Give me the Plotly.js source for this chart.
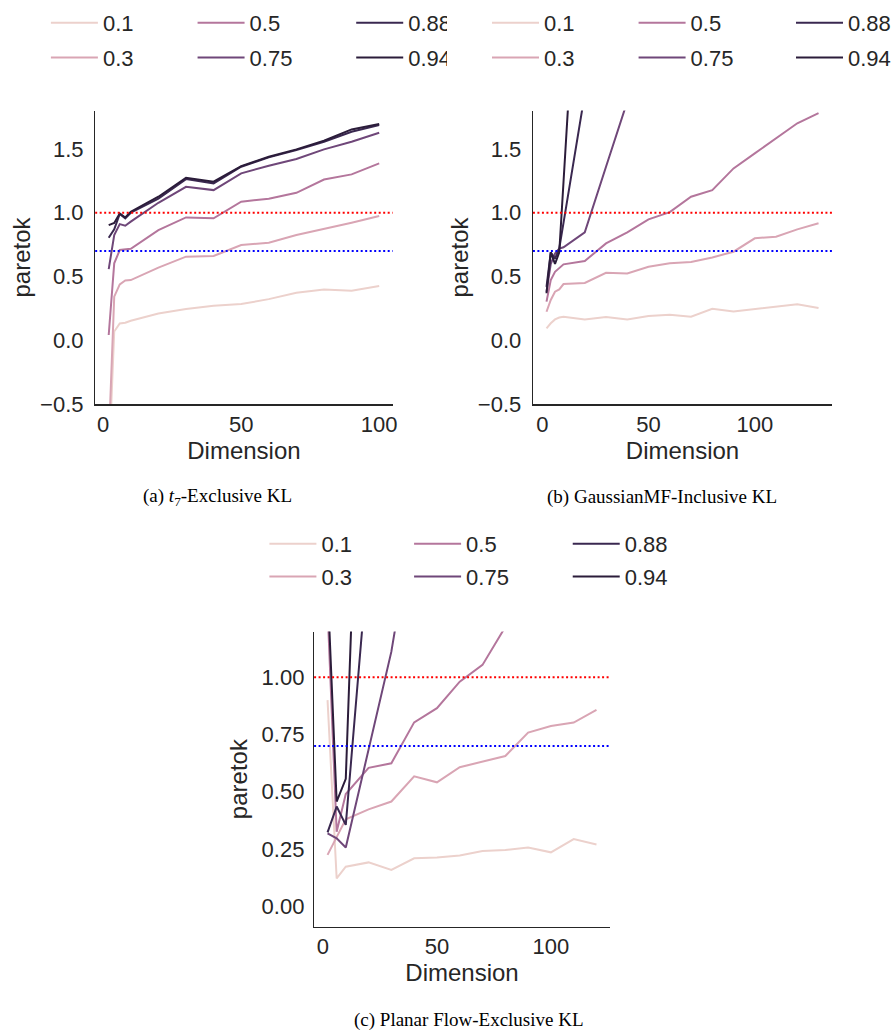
<!DOCTYPE html>
<html><head><meta charset="utf-8">
<script src="https://cdn.plot.ly/plotly-3.0.1.min.js"></script>
<style>html,body{margin:0;padding:0;background:#fff}</style>
</head><body><div id="chart" style="width:896px;height:1034px"></div>
<script>
// ---- data ----
const levels = ['0.1', '0.3', '0.5', '0.75', '0.88', '0.94'];
const colors = ['#ecd1cc', '#d9a5b4', '#b4769c', '#6f4779', '#3a2850', '#2b1c3a'];

// (a) t7 - Exclusive KL
const dimsA = [2, 4, 6, 8, 10, 20, 30, 40, 50, 60, 70, 80, 90, 100];
const a_01 = [-1.0, 0.07, 0.134, 0.139, 0.155, 0.212, 0.246, 0.272, 0.285, 0.324, 0.374, 0.40, 0.39, 0.426];
const a_03 = [-0.8, 0.343, 0.439, 0.47, 0.473, 0.57, 0.656, 0.661, 0.747, 0.765, 0.825, 0.872, 0.922, 0.974];
const a_05 = [0.043, 0.604, 0.708, 0.713, 0.718, 0.864, 0.963, 0.956, 1.086, 1.11, 1.156, 1.26, 1.30, 1.386];
const a_075 = [0.559, 0.825, 0.911, 0.898, 0.93, 1.078, 1.203, 1.177, 1.308, 1.368, 1.42, 1.496, 1.556, 1.626];
const a_088 = [0.804, 0.87, 0.99, 0.956, 1.0, 1.11, 1.263, 1.23, 1.36, 1.433, 1.49, 1.556, 1.634, 1.686];
const a_094 = [0.903, 0.92, 0.995, 0.963, 1.008, 1.125, 1.274, 1.243, 1.365, 1.438, 1.496, 1.563, 1.652, 1.694];

// (b) GaussianMF - Inclusive KL
const dimsB = [2, 4, 6, 8, 10, 20, 30, 40, 50, 60, 70, 80, 90, 100, 110, 120, 130];
const b_01 = [0.095, 0.135, 0.165, 0.18, 0.186, 0.165, 0.184, 0.165, 0.191, 0.202, 0.186, 0.249, 0.228, 0.246, 0.267, 0.283, 0.254];
const b_03 = [0.225, 0.317, 0.382, 0.40, 0.442, 0.45, 0.53, 0.525, 0.577, 0.604, 0.614, 0.65, 0.695, 0.80, 0.812, 0.87, 0.917];
const b_05 = [0.304, 0.473, 0.538, 0.564, 0.596, 0.622, 0.76, 0.846, 0.948, 1.005, 1.125, 1.177, 1.347, 1.464, 1.582, 1.70, 1.78];
const b_075 = [0.38, 0.60, 0.68, 0.72, 0.73, 0.846, 1.36, 1.87];
const b_088 = [0.42, 0.69, 0.64, 0.72, 0.92, 1.93];
const b_094 = [0.37, 0.69, 0.60, 0.69, 1.24, 4.0];

// (c) Planar Flow - Exclusive KL
const dimsC = [2, 6, 10, 20, 30, 40, 50, 60, 70, 80, 90, 100, 110, 120];
const c_01 = [0.90, 0.121, 0.172, 0.191, 0.158, 0.209, 0.212, 0.221, 0.241, 0.245, 0.256, 0.235, 0.293, 0.269];
const c_03 = [0.224, 0.30, 0.379, 0.423, 0.457, 0.567, 0.541, 0.607, 0.631, 0.656, 0.758, 0.787, 0.802, 0.857];
const c_05 = [1.3, 0.325, 0.49, 0.604, 0.624, 0.803, 0.865, 0.981, 1.054, 1.22];
const c_075 = [0.318, 0.296, 0.256, 0.68, 1.112, 1.71];
const c_088 = [0.322, 0.435, 0.355, 1.545];
const c_094 = [1.4, 0.457, 0.556, 3.36];

const thresholds = [1.0, 0.7];
const thresholdColors = ['red', 'blue'];
const captions = ['(a) <i>t</i><sub>7</sub>-Exclusive KL', '(b) GaussianMF-Inclusive KL', '(c) Planar Flow-Exclusive KL'];

// ---- figure ----
const W = 896, H = 1034;
const px = v => v / W, py = v => 1 - v / H;
const panels = [
  {dims: dimsA, series: [a_01, a_03, a_05, a_075, a_088, a_094], xa: 'x', ya: 'y'},
  {dims: dimsB, series: [b_01, b_03, b_05, b_075, b_088, b_094], xa: 'x2', ya: 'y2'},
  {dims: dimsC, series: [c_01, c_03, c_05, c_075, c_088, c_094], xa: 'x3', ya: 'y3'}
];
const legendTextX = [[103, 250, 409], [545, 692, 850], [322, 467, 626]];
const legendTop = [2, 2, 523];
const ITEMW = 47;

const traces = [];
panels.forEach((p, pi) => {
  p.series.forEach((s, i) => {
    const col = Math.floor(i / 2);
    const lg = pi * 3 + col + 1;
    traces.push({
      type: 'scatter', mode: 'lines',
      x: p.dims.slice(0, s.length), y: s,
      xaxis: p.xa, yaxis: p.ya,
      name: levels[i],
      line: {color: colors[i], width: 2},
      legend: lg === 1 ? 'legend' : 'legend' + lg,
      legendgroup: 'p' + pi + 'g' + i,
      showlegend: true,
      hoverinfo: 'skip'
    });
  });
});

const tickFont = {family: 'Liberation Sans, Arial, sans-serif', size: 22, color: '#262626'};
const titleFont = {family: 'Liberation Sans, Arial, sans-serif', size: 24, color: '#262626'};

function xax(domain, range) {
  return {domain: domain, range: range, tickvals: [0, 50, 100], showgrid: false, zeroline: false,
    showline: true, linecolor: '#262626', linewidth: 1.25, ticks: '', tickfont: tickFont,
    ticklabelstandoff: 0, title: {text: 'Dimension', font: titleFont, standoff: 2}};
}
function yax(domain, range, tickvals, fmt, tstand) {
  return {domain: domain, range: range, tickvals: tickvals, tickformat: fmt, showgrid: false, zeroline: false,
    showline: true, linecolor: '#262626', linewidth: 1.25, ticks: '', tickfont: tickFont,
    ticklabelstandoff: 6, title: {text: 'paretok', font: titleFont, standoff: tstand}};
}

const layout = {
  width: W, height: H,
  margin: {l: 0, r: 0, t: 0, b: 0},
  paper_bgcolor: '#fff', plot_bgcolor: '#fff',
  showlegend: true,
  xaxis: Object.assign(xax([px(95.4), px(393.6)], [-2.9, 104.9]), {anchor: 'y'}),
  yaxis: Object.assign(yax([py(404.4), py(110.5)], [-0.5, 1.8], [-0.5, 0, 0.5, 1.0, 1.5], '.1f', 2), {anchor: 'x'}),
  xaxis2: Object.assign(xax([px(534.1), px(834)], [-4.4, 136.4]), {anchor: 'y2'}),
  yaxis2: Object.assign(yax([py(404.4), py(110.5)], [-0.5, 1.8], [-0.5, 0, 0.5, 1.0, 1.5], '.1f', 2), {anchor: 'x2'}),
  xaxis3: Object.assign(xax([px(314.8), px(611.3)], [-3.9, 125.9]), {anchor: 'y3'}),
  yaxis3: Object.assign(yax([py(926.7), py(631.5)], [-0.09, 1.2], [0, 0.25, 0.5, 0.75, 1.0], '.2f', 7), {anchor: 'x3', ticklabelstandoff: 4}),
  shapes: [],
  annotations: []
};

['', '2', '3'].forEach(k => {
  thresholds.forEach((t, ti) => {
    layout.shapes.push({type: 'line', xref: 'x' + k + ' domain', x0: 0, x1: 1, yref: 'y' + k, y0: t, y1: t,
      line: {color: thresholdColors[ti], width: 2, dash: '2px,2.5px'}, layer: 'above'});
  });
});

for (let pi = 0; pi < 3; pi++) {
  for (let col = 0; col < 3; col++) {
    const lg = pi * 3 + col + 1;
    const key = lg === 1 ? 'legend' : 'legend' + lg;
    const isClip = (pi === 1 && col === 0);
    const indent = isClip ? 40 : 0;
    layout[key] = {
      x: px(legendTextX[pi][col] - (ITEMW + 10) - indent), xanchor: 'left',
      y: py(legendTop[pi]), yanchor: 'top',
      orientation: 'v', traceorder: 'grouped', tracegroupgap: pi === 2 ? 1 : 3,
      indentation: indent, itemwidth: ITEMW,
      bgcolor: isClip ? '#ffffff' : 'rgba(0,0,0,0)', borderwidth: 0,
      font: {family: 'Liberation Sans, Arial, sans-serif', size: 22, color: '#262626'}
    };
  }
}

const capPos = [[218, 497], [663, 497], [470, 1020]];
captions.forEach((c, i) => {
  layout.annotations.push({text: c, xref: 'paper', yref: 'paper', x: px(capPos[i][0]), y: py(capPos[i][1]),
    xanchor: 'center', yanchor: 'middle', showarrow: false,
    font: {family: 'Liberation Serif, Times New Roman, serif', size: 19, color: '#000'}});
});

Plotly.newPlot('chart', traces, layout, {staticPlot: true, displayModeBar: false});
</script>
</body></html>
